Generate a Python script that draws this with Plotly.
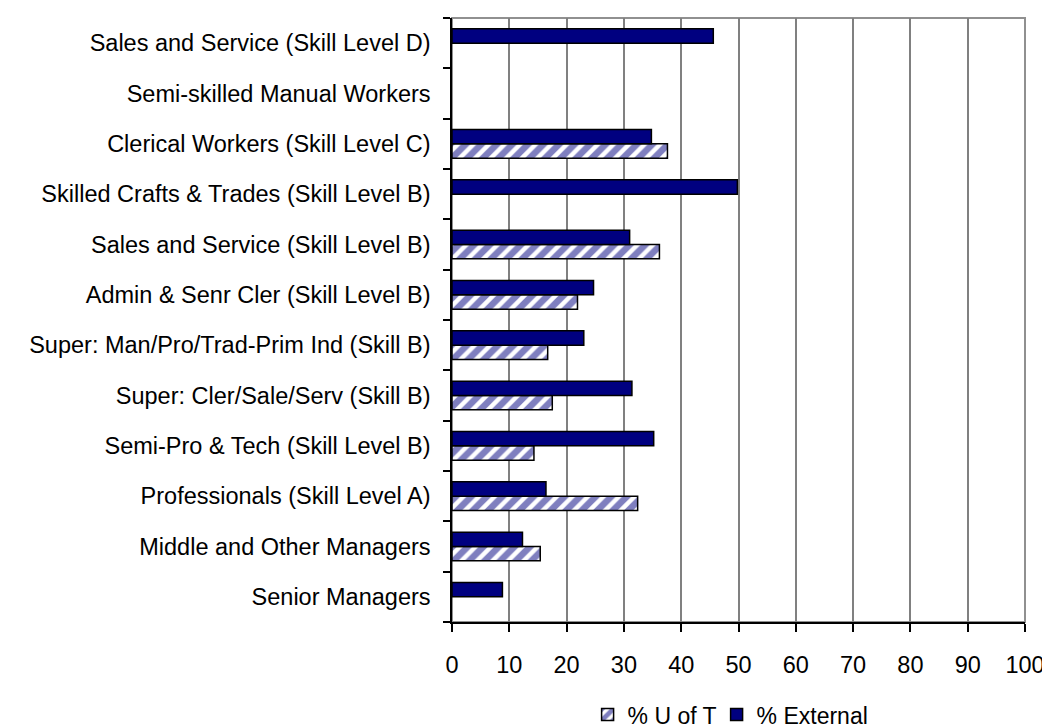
import plotly.graph_objects as go

categories = [
    "Senior Managers",
    "Middle and Other Managers",
    "Professionals (Skill Level A)",
    "Semi-Pro & Tech (Skill Level B)",
    "Super: Cler/Sale/Serv (Skill B)",
    "Super: Man/Pro/Trad-Prim Ind (Skill B)",
    "Admin & Senr Cler (Skill Level B)",
    "Sales and Service (Skill Level B)",
    "Skilled Crafts & Trades (Skill Level B)",
    "Clerical Workers (Skill Level C)",
    "Semi-skilled Manual Workers",
    "Sales and Service (Skill Level D)",
]
pct_uoft = [None, 15.4, 32.4, 14.3, 17.5, 16.7, 21.9, 36.2, None, 37.6, None, None]
pct_external = [8.8, 12.3, 16.4, 35.2, 31.4, 23.0, 24.7, 31.0, 49.8, 34.8, None, 45.6]
x_ticks = list(range(0, 101, 10))

NAVY = "#000080"
FONT = "Liberation Sans, Arial, sans-serif"

fig = go.Figure()
fig.add_trace(go.Bar(
    y=categories, x=pct_uoft, orientation="h", name="% U of T", legendwidth=84,
    marker=dict(color="white",
                pattern=dict(shape="/", fgcolor=NAVY, bgcolor="white", size=11, solidity=0.6),
                line=dict(color="black", width=1.5)),
))
fig.add_trace(go.Bar(
    y=categories, x=pct_external, orientation="h", name="% External",
    marker=dict(color=NAVY, line=dict(color="black", width=1.5)),
))

fig.update_layout(
    width=1050, height=727,
    margin=dict(l=444, r=33, t=10, b=113, autoexpand=False),
    paper_bgcolor="white", plot_bgcolor="white",
    barmode="group", bargap=0.43, bargroupgap=0,
    font=dict(family=FONT, size=23.5, color="black"),
    showlegend=True,
    legend=dict(orientation="h", xref="container", yref="container",
                x=0.552, xanchor="left", y=0.028, yanchor="middle",
                font=dict(size=23), traceorder="normal", itemwidth=30,
                bgcolor="rgba(0,0,0,0)"),
    xaxis=dict(range=[0, 100], tickvals=x_ticks, showgrid=True, gridcolor="#808080", gridwidth=1.5,
               showline=True, linecolor="black", linewidth=1.5, ticks="outside", ticklen=8,
               tickcolor="black", tickwidth=1.5, zeroline=False, ticklabelstandoff=13,
               tickfont=dict(size=23.5), automargin=False),
    yaxis=dict(type="category", categoryorder="array", categoryarray=categories,
               showline=True, linecolor="black", linewidth=1.5, ticks="outside", ticklen=7,
               tickcolor="black", tickwidth=1.5, tickson="boundaries", showgrid=False,
               ticklabelstandoff=15, tickfont=dict(size=23.5), automargin=False),
    shapes=[dict(type="rect", xref="paper", yref="paper", x0=0, x1=1, y0=0, y1=1,
                 line=dict(color="#909090", width=2), layer="below")],
)

fig.write_html("out.html")
